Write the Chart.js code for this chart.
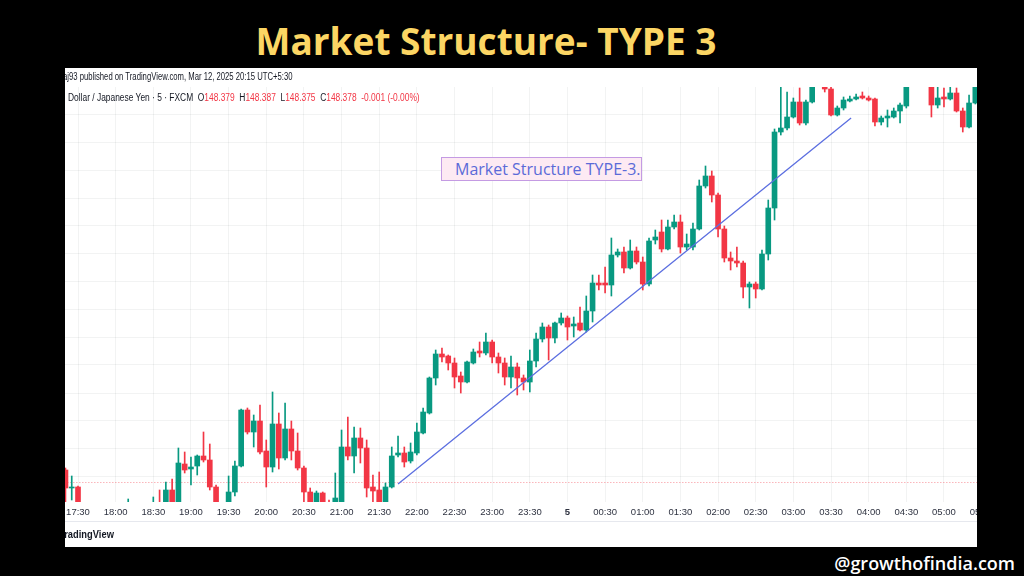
<!DOCTYPE html>
<html>
<head>
<meta charset="utf-8">
<script src="https://cdn.jsdelivr.net/npm/chart.js@4.4.0/dist/chart.umd.min.js"></script>
<style>
  html, body { margin: 0; padding: 0; background: #000; }
  body { width: 1024px; height: 576px; position: relative; overflow: hidden; }
  #title { position: absolute; left: 0; width: 972px; top: 15px; line-height: 37px; text-align: center;
           color: #fcd664; font: 700 37px "Open Sans", sans-serif; white-space: nowrap; }
  #site { position: absolute; right: 9px; top: 551px; color: #fff; font: 600 18px "Open Sans", sans-serif; }
  #panel { position: absolute; left: 65px; top: 68px; width: 912px; height: 479px; background: #fff; overflow: hidden; }
  #chart { position: absolute; left: -30px; top: 0; }
  .hdr { position: absolute; white-space: nowrap; color: #131722; font: 10px "Liberation Sans", sans-serif;
         transform-origin: left center; z-index: 2; }
  .dn { color: #f23645; }
  #line1 { left: -2px; top: 3px; transform: scaleX(0.77); }
  #line2 { left: 3px; top: 24px; transform: scaleX(0.84); }
  #brand { left: -6px; top: 460px; font-weight: bold; font-size: 11px; transform: scaleX(0.85); }
  #sep { position: absolute; left: 0; right: 0; top: 453px; height: 1px; background: #e6e8ee; }
  #note { position: absolute; left: 376px; top: 89px; width: 199px; height: 22px; border: 1.5px solid #c49be3;
          background: #fdeaf3; z-index: 2; }
  #noteText { position: absolute; left: 390px; top: 90px; line-height: 22px; color: #5b6ad8;
              font: 16px "Open Sans", sans-serif; white-space: nowrap; z-index: 3; }
</style>
</head>
<body>
<div id="title">Market Structure- TYPE 3</div>
<div id="panel">
  <canvas id="chart" width="975" height="479"></canvas>
  <div class="hdr" id="line1">aj93 published on TradingView.com, Mar 12, 2025 20:15 UTC+5:30</div>
  <div class="hdr" id="line2">Dollar / Japanese Yen · 5 · FXCM&nbsp;&nbsp;O<span class="dn">148.379</span>&nbsp;&nbsp;H<span class="dn">148.387</span>&nbsp;&nbsp;L<span class="dn">148.375</span>&nbsp;&nbsp;C<span class="dn">148.378</span>&nbsp;&nbsp;<span class="dn">-0.001 (-0.00%)</span></div>
  <div id="sep"></div>
  <div class="hdr" id="brand">TradingView</div>
  <div id="note"></div>
  <div id="noteText">Market Structure TYPE-3.</div>
</div>
<div id="site">@growthofindia.com</div>

<script>
// USD/JPY 5-minute candles, first one is 17:20 (slot -2, slot 0 = 17:30)
const startSlot = -2;
const startMinutes = 17 * 60 + 30;

const openPrices = [
  147.660, 147.624, 147.626, 147.590, 147.575, 147.580, 147.566, 147.572, 147.560, 147.565,
  147.575, 147.580, 147.570, 147.578, 147.582, 147.590, 147.585, 147.620, 147.586, 147.672,
  147.662, 147.668, 147.688, 147.680, 147.626, 147.590, 147.592, 147.616, 147.668, 147.780,
  147.736, 147.758, 147.698, 147.666, 147.752, 147.684, 147.742, 147.698, 147.664, 147.616,
  147.590, 147.614, 147.588, 147.590, 147.592, 147.706, 147.688, 147.724, 147.704, 147.626,
  147.620, 147.592, 147.626, 147.690, 147.694, 147.678, 147.694, 147.734, 147.774, 147.844,
  147.892, 147.888, 147.874, 147.848, 147.836, 147.874, 147.898, 147.894, 147.916, 147.886,
  147.874, 147.846, 147.866, 147.844, 147.836, 147.878, 147.922, 147.946, 147.924, 147.954,
  147.964, 147.948, 147.954, 147.940, 147.978, 148.034, 148.034, 148.030, 148.090, 148.096,
  148.064, 148.098, 148.076, 148.032, 148.120, 148.136, 148.102, 148.146, 148.156, 148.106,
  148.106, 148.142, 148.228, 148.248, 148.210, 148.142, 148.084, 148.078, 148.074, 148.026,
  148.032, 148.022, 148.092, 148.184, 148.336, 148.344, 148.366, 148.396, 148.354, 148.396,
  148.430, 148.440, 148.422, 148.370, 148.384, 148.398, 148.402, 148.408, 148.404, 148.402,
  148.356, 148.364, 148.366, 148.378, 148.388, 148.430, 148.450, 148.462, 148.440, 148.390,
  148.406, 148.402, 148.414, 148.378, 148.346, 148.394
];
const highPrices = [
  147.664, 147.648, 147.628, 147.594, 147.588, 147.585, 147.580, 147.578, 147.574, 147.585,
  147.602, 147.590, 147.588, 147.592, 147.606, 147.620, 147.636, 147.642, 147.704, 147.696,
  147.686, 147.690, 147.736, 147.712, 147.630, 147.592, 147.648, 147.678, 147.782, 147.784,
  147.770, 147.790, 147.720, 147.816, 147.774, 147.794, 147.758, 147.734, 147.668, 147.624,
  147.618, 147.616, 147.600, 147.654, 147.740, 147.766, 147.746, 147.744, 147.720, 147.650,
  147.656, 147.634, 147.706, 147.728, 147.706, 147.714, 147.754, 147.784, 147.846, 147.900,
  147.904, 147.890, 147.884, 147.856, 147.878, 147.902, 147.916, 147.934, 147.920, 147.894,
  147.884, 147.888, 147.874, 147.850, 147.900, 147.934, 147.954, 147.950, 147.956, 147.974,
  147.968, 147.966, 147.986, 148.008, 148.050, 148.050, 148.066, 148.124, 148.102, 148.106,
  148.120, 148.106, 148.086, 148.124, 148.140, 148.160, 148.160, 148.170, 148.170, 148.132,
  148.154, 148.240, 148.268, 148.258, 148.214, 148.148, 148.096, 148.106, 148.078, 148.036,
  148.036, 148.100, 148.200, 148.342, 148.432, 148.416, 148.404, 148.424, 148.400, 148.436,
  148.452, 148.446, 148.426, 148.388, 148.406, 148.408, 148.412, 148.416, 148.408, 148.404,
  148.368, 148.380, 148.384, 148.394, 148.436, 148.458, 148.470, 148.468, 148.446, 148.428,
  148.424, 148.426, 148.424, 148.384, 148.410, 148.440
];
const lowPrices = [
  147.590, 147.600, 147.580, 147.570, 147.568, 147.560, 147.558, 147.552, 147.555, 147.560,
  147.570, 147.565, 147.562, 147.570, 147.575, 147.572, 147.578, 147.578, 147.580, 147.654,
  147.630, 147.650, 147.676, 147.620, 147.590, 147.578, 147.585, 147.608, 147.666, 147.732,
  147.706, 147.692, 147.626, 147.656, 147.662, 147.680, 147.680, 147.660, 147.596, 147.582,
  147.582, 147.580, 147.578, 147.580, 147.585, 147.680, 147.654, 147.674, 147.606, 147.596,
  147.582, 147.585, 147.624, 147.686, 147.666, 147.674, 147.690, 147.732, 147.772, 147.830,
  147.876, 147.860, 147.824, 147.814, 147.834, 147.872, 147.886, 147.890, 147.874, 147.854,
  147.830, 147.824, 147.810, 147.820, 147.816, 147.866, 147.916, 147.880, 147.914, 147.950,
  147.920, 147.926, 147.938, 147.936, 147.956, 148.020, 148.014, 148.008, 148.086, 148.054,
  148.062, 148.072, 148.020, 148.028, 148.112, 148.096, 148.100, 148.142, 148.094, 148.100,
  148.100, 148.140, 148.224, 148.196, 148.126, 148.076, 148.060, 148.066, 148.004, 147.984,
  148.004, 148.020, 148.080, 148.160, 148.330, 148.340, 148.364, 148.350, 148.350, 148.394,
  148.428, 148.416, 148.368, 148.368, 148.380, 148.396, 148.400, 148.402, 148.398, 148.348,
  148.350, 148.346, 148.364, 148.354, 148.384, 148.428, 148.440, 148.436, 148.366, 148.384,
  148.386, 148.400, 148.376, 148.336, 148.344, 148.392
];
const closePrices = [
  147.624, 147.626, 147.590, 147.575, 147.580, 147.566, 147.572, 147.560, 147.565, 147.575,
  147.580, 147.570, 147.578, 147.582, 147.588, 147.580, 147.620, 147.584, 147.674, 147.660,
  147.666, 147.688, 147.680, 147.626, 147.594, 147.585, 147.616, 147.668, 147.780, 147.736,
  147.758, 147.696, 147.666, 147.752, 147.684, 147.742, 147.698, 147.664, 147.616, 147.590,
  147.614, 147.590, 147.584, 147.604, 147.706, 147.688, 147.724, 147.704, 147.624, 147.618,
  147.592, 147.626, 147.688, 147.694, 147.676, 147.696, 147.736, 147.776, 147.844, 147.892,
  147.886, 147.874, 147.846, 147.836, 147.876, 147.896, 147.894, 147.916, 147.886, 147.874,
  147.846, 147.866, 147.844, 147.836, 147.878, 147.922, 147.946, 147.924, 147.954, 147.964,
  147.946, 147.952, 147.940, 147.978, 148.034, 148.030, 148.030, 148.090, 148.096, 148.064,
  148.098, 148.076, 148.032, 148.118, 148.126, 148.102, 148.146, 148.156, 148.106, 148.112,
  148.142, 148.228, 148.248, 148.210, 148.142, 148.084, 148.078, 148.074, 148.026, 148.032,
  148.022, 148.092, 148.184, 148.336, 148.344, 148.366, 148.396, 148.354, 148.396, 148.430,
  148.445, 148.422, 148.370, 148.384, 148.400, 148.402, 148.406, 148.404, 148.400, 148.356,
  148.364, 148.368, 148.378, 148.390, 148.430, 148.450, 148.462, 148.445, 148.390, 148.404,
  148.402, 148.414, 148.378, 148.346, 148.394, 148.432
];

// drawn trend line (slot, price) and the dotted level
const trendSlots = [51, 123.2];
const trendPrices = [147.632, 148.364];
const levelPrice = 147.635;

// time axis labels every 30 minutes (slot numbers) and horizontal grid levels
const labelSlots = [0, 6, 12, 18, 24, 30, 36, 42, 48, 54, 60, 66, 72, 78, 84, 90,
  96, 102, 108, 114, 120, 126, 132, 138, 144];
const gridPrices = [148.370, 148.314, 148.259, 148.203, 148.148, 148.092, 148.036,
  147.981, 147.925, 147.870, 147.814, 147.758, 147.703, 147.647];

const upColor = '#089981';
const downColor = '#f23645';
const gridColor = 'rgba(42,46,57,0.06)';

function candleColor(ctx) {
  const k = ctx.dataIndex;
  return closePrices[k] >= openPrices[k] ? upColor : downColor;
}

function slotLabel(v) {
  const m = ((startMinutes + Math.round(v) * 5) % 1440 + 1440) % 1440;
  if (m === 0) return '5';
  const h = Math.floor(m / 60), mm = m % 60;
  return String(h).padStart(2, '0') + ':' + String(mm).padStart(2, '0');
}

const wicks = lowPrices.map((l, k) => ({ x: startSlot + k, y: [l, highPrices[k]] }));
const bodies = openPrices.map((o, k) => ({ x: startSlot + k, y: [o, closePrices[k]] }));

new Chart(document.getElementById('chart'), {
  type: 'bar',
  data: {
    datasets: [
      {
        type: 'line',
        data: trendSlots.map((s, k) => ({ x: s, y: trendPrices[k] })),
        borderColor: '#5b6ee0',
        borderWidth: 1.3,
        pointRadius: 0,
        clip: 0,
        order: 0
      },
      {
        data: bodies,
        backgroundColor: candleColor,
        barThickness: 5,
        minBarLength: 1,
        grouped: false,
        borderWidth: 0,
        clip: 0,
        order: 1
      },
      {
        data: wicks,
        backgroundColor: candleColor,
        barThickness: 1,
        grouped: false,
        borderWidth: 0,
        clip: 0,
        order: 2
      },
      {
        type: 'line',
        data: [{ x: -6, y: levelPrice }, { x: 150, y: levelPrice }],
        borderColor: 'rgba(242,54,69,0.55)',
        borderWidth: 1,
        borderDash: [1, 2],
        pointRadius: 0,
        clip: 0,
        order: 3
      }
    ]
  },
  options: {
    responsive: false,
    animation: false,
    events: [],
    layout: { padding: { top: 19, left: 10, right: 10, bottom: 20 } },
    plugins: { legend: { display: false }, tooltip: { enabled: false } },
    scales: {
      x: {
        type: 'linear',
        min: -5.26,
        max: 146.93,
        offset: false,
        border: { display: false },
        grid: { color: gridColor, drawTicks: false, offset: false },
        afterBuildTicks: s => { s.ticks = labelSlots.map(v => ({ value: v })); },
        afterFit: s => { s.height = 25; s.paddingLeft = 0; s.paddingRight = 0; },
        ticks: {
          autoSkip: false,
          maxRotation: 0,
          minRotation: 0,
          padding: 5,
          color: '#2e3240',
          font: ctx => ({
            family: '"Liberation Sans", sans-serif',
            size: 9.5,
            weight: ctx.tick && slotLabel(ctx.tick.value) === '5' ? 'bold' : 'normal'
          }),
          callback: v => slotLabel(v)
        }
      },
      y: {
        type: 'linear',
        min: 147.596,
        max: 148.426,
        border: { display: false },
        grid: { color: gridColor, drawTicks: false },
        ticks: { display: false },
        afterBuildTicks: s => { s.ticks = gridPrices.map(v => ({ value: v })); },
        afterFit: s => { s.width = 0; }
      }
    }
  }
});
</script>
</body>
</html>
